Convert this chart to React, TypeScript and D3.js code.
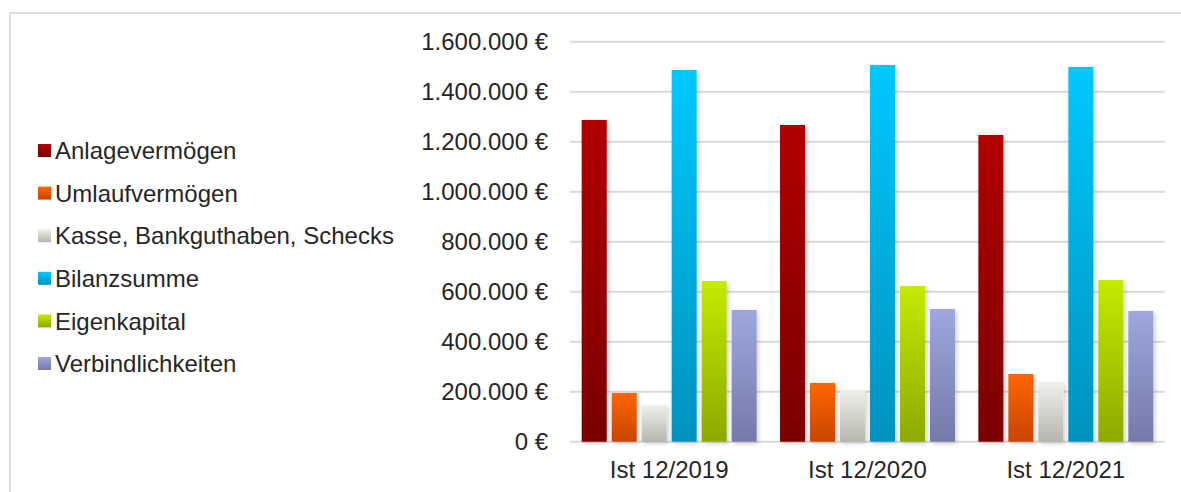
import React from "react";
import * as d3 from "d3";

const categories = ["Ist 12/2019", "Ist 12/2020", "Ist 12/2021"];
const seriesNames = [
  "Anlagevermögen",
  "Umlaufvermögen",
  "Kasse, Bankguthaben, Schecks",
  "Bilanzsumme",
  "Eigenkapital",
  "Verbindlichkeiten",
];
const anlagevermoegen = [1287000, 1267000, 1227000];
const umlaufvermoegen = [195000, 235000, 271000];
const kasse = [147000, 207000, 239000];
const bilanzsumme = [1487000, 1507000, 1499000];
const eigenkapital = [643000, 623000, 647000];
const verbindlichkeiten = [527000, 531000, 523000];
const yTicks = [0, 200000, 400000, 600000, 800000, 1000000, 1200000, 1400000, 1600000];

const seriesValues = [anlagevermoegen, umlaufvermoegen, kasse, bilanzsumme, eigenkapital, verbindlichkeiten];
const gradients: [string, string][] = [
  ["#B20000", "#7A0000"],
  ["#FF6600", "#C94400"],
  ["#F0F0EC", "#B6B6AE"],
  ["#00C8FF", "#0092BE"],
  ["#C6EA00", "#8EA800"],
  ["#9EA8DE", "#7479A8"],
];

const W = 1181;
const H = 492;
const FONT = "'Liberation Sans', Arial, sans-serif";
const TEXT = "#262626";
const FS = 24;

const locale = d3.formatLocale({ decimal: ",", thousands: ".", grouping: [3], currency: ["", " €"] });
const fmt = locale.format(",.0f");

export default function App() {
  const plotLeft = 570;
  const plotRight = 1165;
  const y = d3.scaleLinear().domain([0, 1600000]).range([441.7, 41.7]);
  const x0 = d3.scaleBand<string>().domain(categories).range([plotLeft, plotRight]).paddingInner(0.118).paddingOuter(0.059);
  const x1 = d3.scaleBand<string>().domain(seriesNames).range([0, x0.bandwidth()]).paddingInner(5 / 30).paddingOuter(0);

  return (
    <svg width={W} height={H} style={{ position: "absolute", left: 0, top: 0, background: "#fff" }} fontFamily={FONT}>
      <defs>
        {gradients.map((g, i) => (
          <linearGradient key={i} id={`g${i}`} x1="0" y1="0" x2="0" y2="1">
            <stop offset="0%" stopColor={g[0]} />
            <stop offset="100%" stopColor={g[1]} />
          </linearGradient>
        ))}
        <filter id="shadow" x="-30%" y="-10%" width="160%" height="120%">
          <feDropShadow dx="2" dy="2" stdDeviation="2" floodColor="#000" floodOpacity="0.18" />
        </filter>
      </defs>
      {/* frame */}
      <line x1={10} y1={13} x2={W} y2={13} stroke="#dedede" strokeWidth={2} />
      <line x1={10} y1={12} x2={10} y2={H} stroke="#dedede" strokeWidth={2} />
      {/* gridlines */}
      {yTicks.map((t) => (
        <g key={t}>
          <line x1={plotLeft} x2={plotRight} y1={y(t)} y2={y(t)} stroke="#d9d9d9" strokeWidth={2} />
          <text x={548} y={y(t)} dy="0.36em" textAnchor="end" fontSize={FS} fill={TEXT}>
            {fmt(t) + " €"}
          </text>
        </g>
      ))}
      {/* bars */}
      {categories.map((c, ci) => (
        <g key={c}>
          {seriesNames.map((s, si) => {
            const v = seriesValues[si][ci];
            const bx = (x0(c) as number) + (x1(s) as number);
            return (
              <rect
                key={s}
                x={bx}
                y={y(v)}
                width={x1.bandwidth()}
                height={y(0) - y(v)}
                fill={`url(#g${si})`}
                filter="url(#shadow)"
              />
            );
          })}
          <text x={(x0(c) as number) + x0.bandwidth() / 2} y={477.5} textAnchor="middle" fontSize={FS} fill={TEXT}>
            {c}
          </text>
        </g>
      ))}
      {/* legend */}
      {seriesNames.map((s, i) => {
        const cy = 150.5 + i * 42.6;
        return (
          <g key={s}>
            <rect x={38} y={cy - 6.5} width={13} height={13} fill={`url(#g${i})`} />
            <text x={55} y={cy} dy="0.36em" fontSize={FS} fill={TEXT}>
              {s}
            </text>
          </g>
        );
      })}
    </svg>
  );
}
